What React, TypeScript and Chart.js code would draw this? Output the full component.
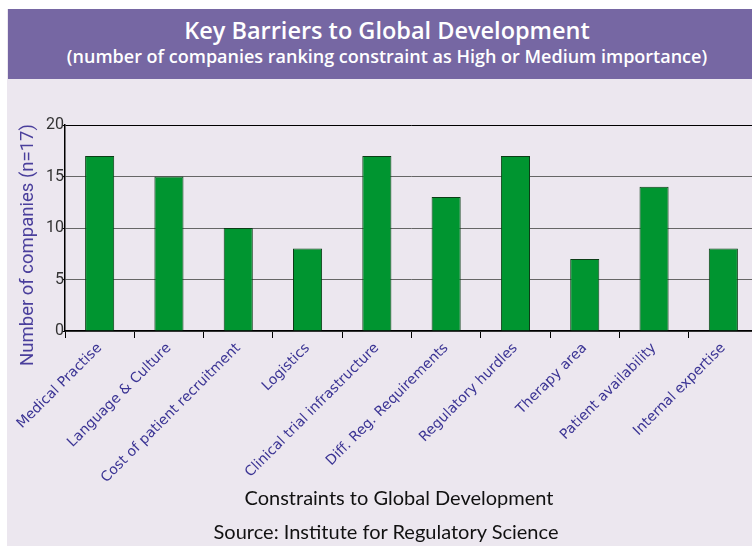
import React, { useEffect, useRef } from "react";
import { Chart, registerables } from "chart.js";
Chart.register(...registerables);

const categories = [
  "Medical Practise",
  "Language & Culture",
  "Cost of patient recruitment",
  "Logistics",
  "Clinical trial infrastructure",
  "Diff. Reg. Requirements",
  "Regulatory hurdles",
  "Therapy area",
  "Patient availability",
  "Internal expertise",
];
const companies = [17, 15, 10, 8, 17, 13, 17, 7, 14, 8];
const yMin = 0;
const yMax = 20;
const yStep = 5;

const mainTitle = "Key Barriers to Global Development";
const subTitle = "(number of companies ranking constraint as High or Medium importance)";
const yTitle = "Number of companies (n=17)";
const xTitle = "Constraints to Global Development";
const sourceText = "Source: Institute for Regulatory Science";

const yTitlePlugin = {
  id: "yTitlePlugin",
  afterDraw(chart: any) {
    const ctx = chart.ctx;
    ctx.save();
    ctx.translate(28, 245);
    ctx.rotate(-Math.PI / 2);
    ctx.font = "18.5px Roboto";
    ctx.fillStyle = "#4a3f9c";
    ctx.textAlign = "center";
    ctx.textBaseline = "middle";
    ctx.fillText(yTitle, 0, 0);
    ctx.restore();
  },
};

export default function App() {
  const ref = useRef<HTMLCanvasElement | null>(null);

  useEffect(() => {
    document.body.style.margin = "0";
    document.body.style.overflow = "hidden";
    if (!ref.current) return;
    const chart = new Chart(ref.current, {
      type: "bar",
      data: {
        labels: categories,
        datasets: [
          {
            data: companies,
            backgroundColor: "#009530",
            borderColor: "#0b3d16",
            borderWidth: 1,
            categoryPercentage: 1,
            barPercentage: 0.42,
          },
        ],
      },
      plugins: [yTitlePlugin],
      options: {
        animation: false,
        responsive: false,
        devicePixelRatio: 1,
        layout: { padding: { left: 0, right: 2, top: 125, bottom: 0 } },
        plugins: {
          legend: { display: false },
          tooltip: { enabled: false },
          title: { display: false },
        },
        scales: {
          x: {
            afterFit: (scale: any) => {
              scale.height = 215;
              scale.paddingLeft = 0;
              scale.paddingRight = 0;
            },
            grid: {
              display: true,
              drawOnChartArea: false,
              drawTicks: true,
              tickLength: 7,
              tickColor: "#000",
              offset: true,
            },
            border: { color: "#000", width: 1.5 },
            ticks: {
              autoSkip: false,
              minRotation: 45,
              maxRotation: 45,
              padding: 2,
              color: "#3b3494",
              font: { family: "'DejaVu Sans'", size: 14 },
            },
          },
          y: {
            min: yMin,
            max: yMax,
            afterFit: (scale: any) => {
              scale.width = 65;
            },
            grid: {
              color: (c: any) => (c.tick && c.tick.value === yMax ? "#000" : "#666"),
              tickLength: 3,
              tickColor: "#000",
            },
            border: { color: "#000", width: 1.5 },
            ticks: {
              stepSize: yStep,
              padding: -2,
              color: "#333",
              font: { family: "Roboto", size: 16 },
            },
          },
        },
      },
    });
    return () => chart.destroy();
  }, []);

  return (
    <div style={{ position: "relative", width: 752, height: 546, overflow: "hidden", background: "#fff" }}>
      <div style={{ position: "absolute", left: 7, top: 9, right: 0, bottom: 0, background: "#ece7ef" }} />
      <div style={{ position: "absolute", left: 8, top: 9, right: 0, height: 70, background: "#7667a3" }} />
      <div
        style={{
          position: "absolute",
          left: 0,
          width: 774,
          top: 15,
          textAlign: "center",
          color: "#fff",
          fontFamily: "'Open Sans'",
          fontWeight: 600,
          fontSize: 23.5,
          lineHeight: "30px",
        }}
      >
        {mainTitle}
      </div>
      <div
        style={{
          position: "absolute",
          left: 0,
          width: 774,
          top: 45,
          textAlign: "center",
          color: "#fff",
          fontFamily: "'Open Sans'",
          fontWeight: 600,
          fontSize: 18,
          lineHeight: "22px",
        }}
      >
        {subTitle}
      </div>
      <canvas ref={ref} width={760} height={546} style={{ position: "absolute", left: 0, top: 0, display: "block" }} />
      <div
        style={{
          position: "absolute",
          left: 199,
          width: 400,
          top: 484,
          textAlign: "center",
          color: "#111",
          fontFamily: "Lato",
          fontSize: 20,
          lineHeight: "26px",
        }}
      >
        {xTitle}
      </div>
      <div
        style={{
          position: "absolute",
          left: 186,
          width: 400,
          top: 518,
          textAlign: "center",
          color: "#111",
          fontFamily: "Lato",
          fontSize: 20,
          lineHeight: "26px",
        }}
      >
        {sourceText}
      </div>
    </div>
  );
}
